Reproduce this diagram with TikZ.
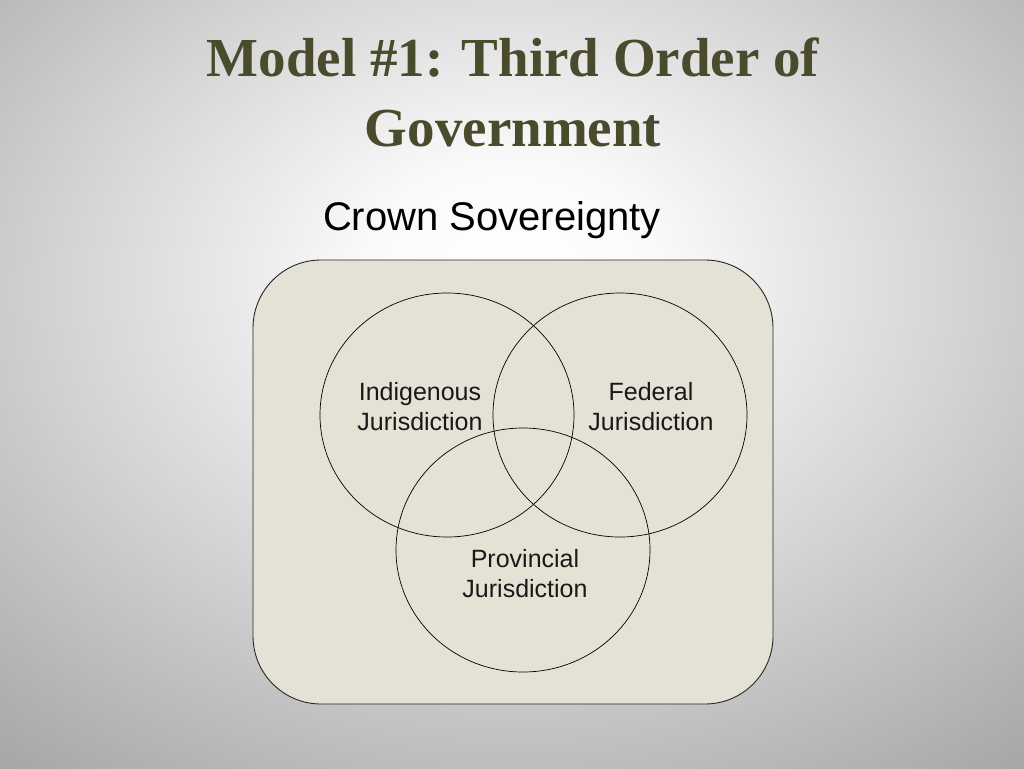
\documentclass[tikz,border=0pt]{standalone}
\usepackage{fontspec}
\setmainfont{Liberation Serif}
\setsansfont{Liberation Sans}
\definecolor{titlecol}{HTML}{4A4A2C}
\definecolor{boxfill}{HTML}{E4E2D5}
\pgfdeclareradialshading{bgshade}{\pgfpoint{0bp}{8bp}}{color(0bp)=(white); color(7bp)=(white!98!black); color(22bp)=(black!17); color(42bp)=(black!38); color(100bp)=(black!42)}
\tikzset{
  venn/.style={draw=black, line width=0.7pt},
  lbl/.style={font=\sffamily\fontsize{25}{30}\selectfont, align=center, text=black!90},
}
\begin{document}
\begin{tikzpicture}[x=1pt,y=-1pt]
\useasboundingbox (0,0) rectangle (1024,768);
\shade[shading=bgshade] (0,0) rectangle (1024,768);
\node[font=\bfseries\fontsize{55}{70}\selectfont, text=titlecol, align=center] (title) at (513,92) {Model \#1: Third Order of\\Government};
\node[font=\sffamily\fontsize{40}{44}\selectfont] (crown) at (492,220) {Crown Sovereignty};
\node[draw=black!85, line width=0.9pt, fill=boxfill, rounded corners=68pt, minimum width=520pt, minimum height=444pt] (box) at (513,482) {};
\draw[venn] (447,415) ellipse [x radius=127, y radius=122];
\draw[venn] (620,415) ellipse [x radius=127, y radius=122];
\draw[venn] (523,550) ellipse [x radius=127, y radius=122];
\node[lbl] (ind) at (420,407) {Indigenous\\Jurisdiction};
\node[lbl] (fed) at (651,407) {Federal\\Jurisdiction};
\node[lbl] (prov) at (525,574) {Provincial\\Jurisdiction};
\end{tikzpicture}
\end{document}
